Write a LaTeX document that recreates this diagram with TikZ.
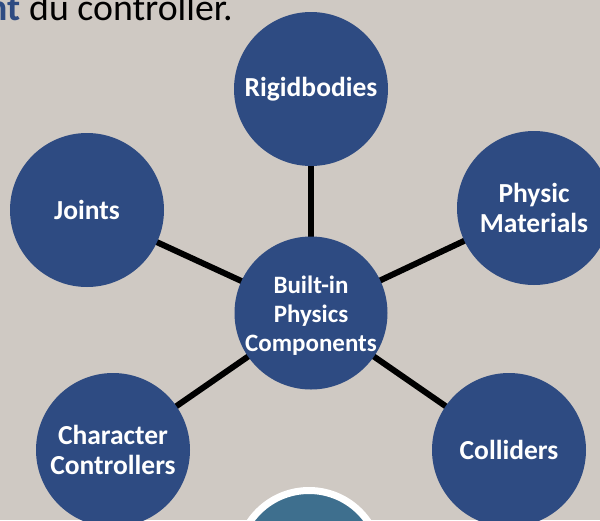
\documentclass[tikz,border=0pt]{standalone}
\usepackage{fontspec}
\setmainfont{Carlito}
\usetikzlibrary{backgrounds}
\pgfdeclarelayer{back}
\pgfsetlayers{back,background,main}
\definecolor{bgc}{HTML}{CFC9C3}
\definecolor{nodeblue}{HTML}{2E4B82}
\definecolor{tealc}{HTML}{3E6F8E}
\begin{document}
\begin{tikzpicture}[x=1pt,y=-1pt,
  bubble/.style={circle, fill=nodeblue, minimum size=154pt, inner sep=0pt, text=white, font=\bfseries\fontsize{27.5}{30}\selectfont, align=center},
  hubble/.style={bubble, minimum size=153pt},
  hubtext/.style={text=white, font=\bfseries\fontsize{25}{29}\selectfont, align=center, inner sep=0pt},
  link/.style={line width=6pt, draw=black}]
\useasboundingbox (0,0) rectangle (600,520);
\clip (0,0) rectangle (600,520);
\begin{pgfonlayer}{back}
\fill[bgc] (0,0) rectangle (600,520);
\end{pgfonlayer}
\node[anchor=base west, inner sep=0pt, font=\fontsize{37.8}{40}\selectfont] (title) at (-12.6,20) {\textcolor{nodeblue}{\bfseries nt} du controller.};
\node[hubble, label={[hubtext, name=ctext, yshift=-3pt]center:{Built-in\\Physics\\Components}}] (c) at (311,313) {};
\node[bubble] (rb) at (311,89) {Rigidbodies};
\node[bubble] (jt) at (87,210) {Joints};
\node[bubble] (pm) at (534,208) {Physic\\Materials};
\node[bubble] (cc) at (113,450) {Character\\Controllers};
\node[bubble] (co) at (509,450) {Colliders};
\node[circle, fill=tealc, draw=white, line width=7pt, minimum size=143pt, inner sep=0pt] (bt) at (309,562) {};
\begin{scope}[on background layer]
\draw[link] (c.center) -- (rb.center);
\draw[link] (c.center) -- (jt.center);
\draw[link] (c.center) -- (pm.center);
\draw[link] (c.center) -- (cc.center);
\draw[link] (c.center) -- (co.center);
\end{scope}
\end{tikzpicture}
\end{document}
